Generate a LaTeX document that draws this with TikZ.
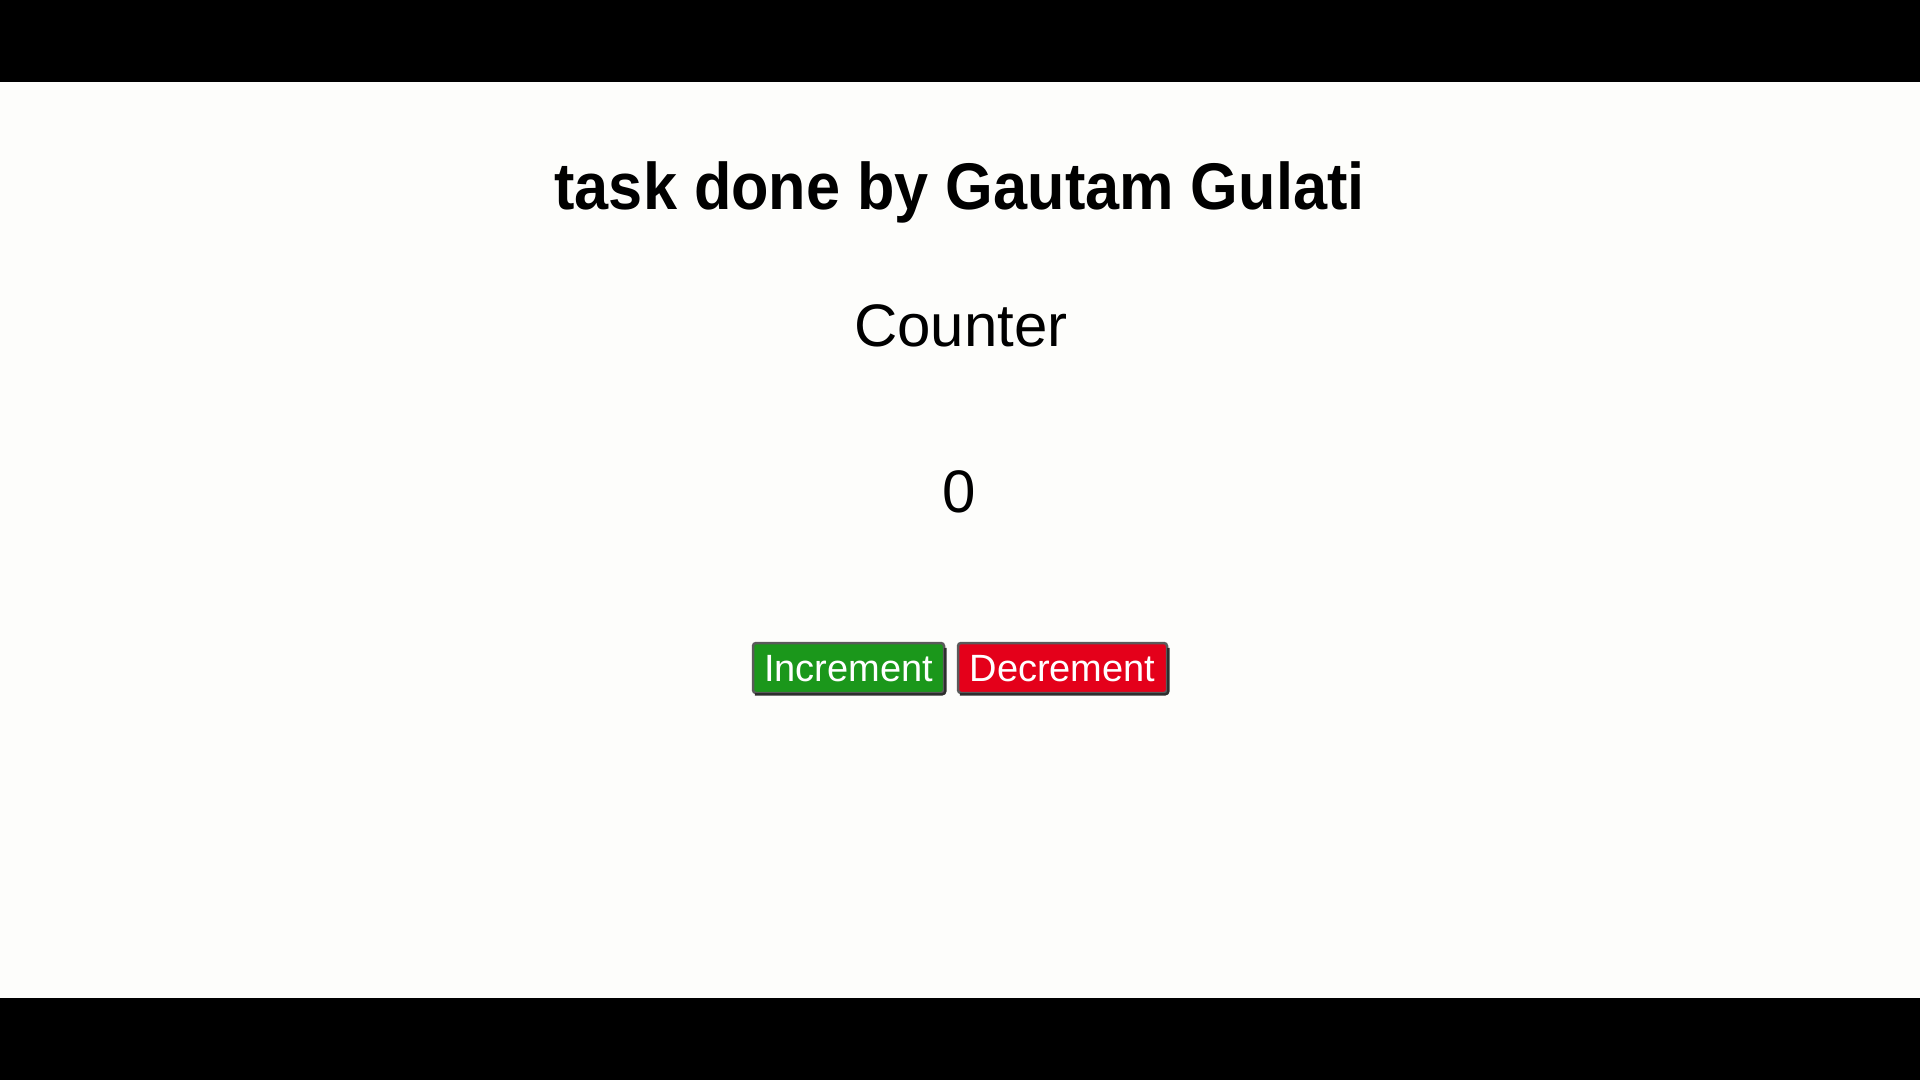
\documentclass[tikz,border=0pt]{standalone}
\usepackage{fontspec}
\usepackage{graphicx}
\setmainfont{Liberation Sans}
\definecolor{pagebg}{HTML}{FDFDFB}
\definecolor{btngreen}{HTML}{1B971B}
\definecolor{btnred}{HTML}{E4001A}
\definecolor{btnborder}{HTML}{5A5A5A}
\definecolor{btnshadow}{HTML}{2E2E2E}
\tikzset{
  title/.style={anchor=base, inner sep=0pt, font=\bfseries\fontsize{66}{70}\selectfont},
  bigtext/.style={anchor=base, inner sep=0pt, font=\fontsize{60}{66}\selectfont},
  button/.style={rounded corners=3pt, draw=btnborder, line width=2.5pt,
    text=white, inner sep=0pt, minimum height=50pt,
    text height=27.2pt, text depth=0pt, font=\fontsize{38}{42}\selectfont},
  outset/.style={draw=btnshadow, line width=2.5pt, rounded corners=3pt},
}
\begin{document}
\begin{tikzpicture}[x=1pt,y=-1pt]
  \useasboundingbox (0,0) rectangle (1920,1080);
  \fill[pagebg] (0,0) rectangle (1920,1080);
  \fill[black] (0,0) rectangle (1920,82);
  \fill[black] (0,998) rectangle (1920,1080);
  \node[title] (t) at (959.5,209) {\scalebox{0.928}[1]{task done by Gautam Gulati}};
  \node[bigtext] (c) at (961,346) {Counter};
  \node[bigtext] (z) at (959,512) {0};
  \node[button, fill=btngreen, minimum width=191pt] (inc) at (848.5,668) {Increment};
  \node[button, fill=btnred, minimum width=209pt] (dec) at (1062.5,668) {Decrement};
  \draw[outset] ([xshift=3pt]inc.south west) -- (inc.south east) -- ([yshift=-6pt]inc.north east);
  \draw[outset] ([xshift=3pt]dec.south west) -- (dec.south east) -- ([yshift=-6pt]dec.north east);
\end{tikzpicture}
\end{document}
